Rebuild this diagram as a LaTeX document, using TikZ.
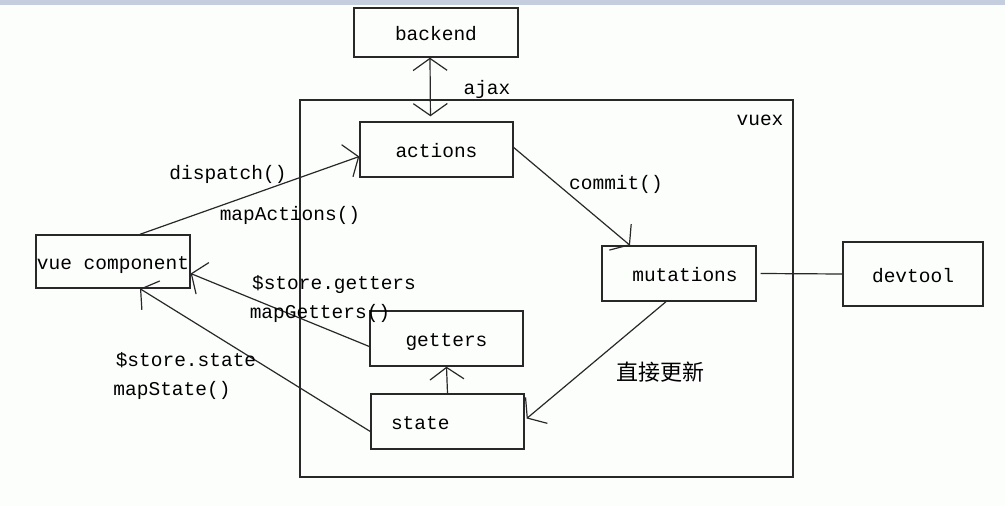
\documentclass[tikz,border=0pt]{standalone}
\usepackage{fontspec}
\setmonofont{Liberation Mono}
\newfontfamily\cjk{Noto Sans CJK SC}
\usetikzlibrary{arrows.meta, positioning}

\definecolor{inkgray}{RGB}{40,40,40}
\definecolor{barblue}{RGB}{197,206,223}
\definecolor{paper}{RGB}{252,254,252}

\tikzset{
  >={Straight Barb[length=12pt,width=34pt]},
  box/.style={draw=inkgray, line width=1.4pt, rectangle, inner sep=0pt,
    minimum width=153pt, minimum height=55pt, text height=16pt, text depth=0pt,
    font=\ttfamily\fontsize{19.5}{20}\selectfont},
  lbl/.style={inner sep=0pt, font=\ttfamily\fontsize{19.5}{20}\selectfont},
  flow/.style={draw=inkgray, line width=1.2pt, ->},
}

\begin{document}
\begin{tikzpicture}[x=1pt, y=-1pt]
    % Canvas and the grey bar on top
    \useasboundingbox (0,0) rectangle (1005,506);
    \fill[paper] (0,0) rectangle (1005,506);
    \fill[barblue] (0,0) rectangle (1005,5);

    % The store frame (vuex)
    \node[draw=inkgray, line width=1.4pt, minimum width=493pt, minimum height=377pt] (store) at (546.5,288.5) {};
    \node[lbl] (vuex) at (760,120) {vuex};

    % Boxes
    \node[box, minimum width=164pt, minimum height=49pt] (backend) at (436,32.5) {backend};
    \node[box] (actions) at (436.5,149.5) {actions};
    \node[box, minimum width=154pt] (mutations) at (679,273.5) {\hspace*{12pt}mutations};
    \node[box, minimum width=140pt, minimum height=64pt] (devtool) at (913,274) {devtool};
    \node[box, minimum width=154pt, minimum height=53pt] (vue) at (113,261.5) {vue component};
    \node[box] (getters) at (446.5,338.5) {getters};
    \node[box, text width=113pt, inner xsep=20pt, align=left] (state) at (447.5,421.5) {state};

    % backend <-> actions
    \draw[flow, <->, shorten >=5pt] ([xshift=-6pt]backend.south) -- ([xshift=-6pt]actions.north);
    \node[lbl] (ajax) at (487,89) {ajax};

    % component dispatches actions
    \draw[flow] ([xshift=27pt]vue.north) -- ([yshift=-7pt]actions.west);
    \node[lbl] (dispatch) at (228,174) {dispatch()};
    \node[lbl] (mapactions) at (290,215) {mapActions()};

    % actions commit mutations
    \draw[flow] ([yshift=2pt]actions.east) -- ([xshift=-49pt]mutations.north);
    \node[lbl] (commit) at (616,184) {commit()};

    % mutations linked to devtool
    \draw[draw=inkgray, line width=1.2pt] ([xshift=4pt]mutations.east) -- (devtool.west);

    % mutations update state
    \draw[flow] ([xshift=-13pt]mutations.south) -- ([xshift=2pt,yshift=3pt]state.east);
    \node[font=\cjk\fontsize{22}{22}\selectfont, inner sep=0pt] (update) at (660,372) {直接更新};

    % state feeds getters
    \draw[flow] (state.north) -- (getters.south);

    % getters and state back to the component
    \draw[flow] ([yshift=-8pt]getters.west) -- ([yshift=-12pt]vue.east);
    \node[lbl] (storegetters) at (334,284) {\$store.getters};
    \node[lbl] (mapgetters) at (320,313) {mapGetters()};

    \draw[flow] ([yshift=-10pt]state.west) -- ([xshift=27pt]vue.south);
    \node[lbl] (storestate) at (186,360) {\$store.state};
    \node[lbl] (mapstate) at (172,390) {mapState()};

\end{tikzpicture}
\end{document}
